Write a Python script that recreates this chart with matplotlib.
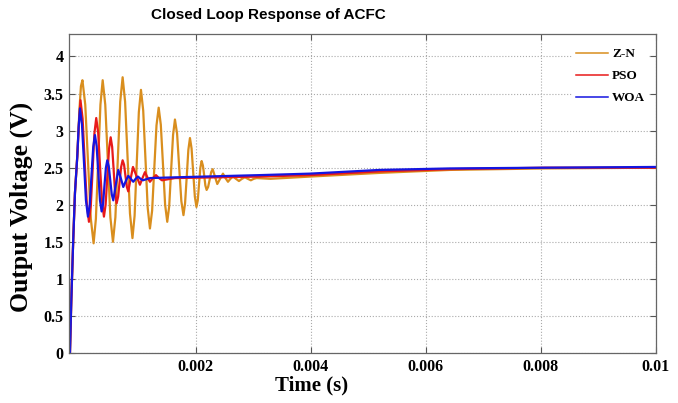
import matplotlib
matplotlib.use('Agg')
import matplotlib.pyplot as plt
import numpy as np

# Z-N respuesta
t_zn = [-0.000186, -0.000163, -0.000129, -0.000099, -0.000059, -0.000020, 0.000005, 0.000031,
        0.000080, 0.000128, 0.000177, 0.000225, 0.000265, 0.000304, 0.000344, 0.000383,
        0.000428, 0.000473, 0.000517, 0.000562, 0.000604, 0.000646, 0.000688, 0.000730,
        0.000773, 0.000816, 0.000858, 0.000901, 0.000938, 0.000975, 0.001012, 0.001049,
        0.001088, 0.001127, 0.001166, 0.001205, 0.001243, 0.001281, 0.001319, 0.001357,
        0.001394, 0.001432, 0.001469, 0.001506, 0.001540, 0.001573, 0.001607, 0.001640,
        0.001677, 0.001714, 0.001751, 0.001788, 0.001816, 0.001845, 0.001873, 0.001901,
        0.001929, 0.001958, 0.001986, 0.002014, 0.002037, 0.002059, 0.002082, 0.002104,
        0.002126, 0.002148, 0.002169, 0.002191, 0.002217, 0.002244, 0.002270, 0.002296,
        0.002336, 0.002376, 0.002425, 0.002475, 0.002518, 0.002562, 0.002605, 0.002649,
        0.002701, 0.002753, 0.002805, 0.002857, 0.002908, 0.002960, 0.003010, 0.003060,
        0.003300, 0.003988, 0.005205, 0.006423, 0.008075, 0.0100]
v_zn = [0, 0.70, 1.53, 2.16, 2.65, 3.30, 3.60, 3.68,
        3.35, 2.58, 1.81, 1.48, 1.81, 2.58, 3.35, 3.68,
        3.35, 2.59, 1.83, 1.50, 1.83, 2.61, 3.39, 3.72,
        3.39, 2.64, 1.88, 1.55, 1.85, 2.55, 3.25, 3.55,
        3.27, 2.62, 1.96, 1.68, 1.92, 2.50, 3.07, 3.31,
        3.08, 2.54, 2.00, 1.77, 1.98, 2.46, 2.94, 3.15,
        2.96, 2.50, 2.05, 1.86, 2.02, 2.38, 2.74, 2.90,
        2.76, 2.43, 2.11, 1.97, 2.06, 2.28, 2.50, 2.59,
        2.53, 2.40, 2.26, 2.20, 2.24, 2.34, 2.44, 2.48,
        2.38, 2.28, 2.35, 2.42, 2.36, 2.31, 2.35, 2.38,
        2.35, 2.32, 2.35, 2.37, 2.35, 2.33, 2.35, 2.36,
        2.35, 2.38, 2.43, 2.47, 2.49, 2.50]
# PSO
t_pso = [-0.000186, -0.000163, -0.000129, -0.000099, -0.000059, -0.000030, -0.000003,
         0.000034, 0.000070, 0.000107, 0.000144, 0.000176, 0.000208, 0.000239, 0.000271,
         0.000305, 0.000338, 0.000372, 0.000405, 0.000434, 0.000464, 0.000493, 0.000522,
         0.000548, 0.000574, 0.000600, 0.000626, 0.000652, 0.000678, 0.000704, 0.000730,
         0.000755, 0.000779, 0.000804, 0.000828, 0.000869, 0.000910, 0.000970, 0.001031,
         0.001075, 0.001118, 0.001161, 0.001205, 0.001258, 0.001310, 0.001362, 0.001414,
         0.001640, 0.003118, 0.003988, 0.005205, 0.006423, 0.008075, 0.0100]
v_pso = [0, 0.70, 1.53, 2.16, 2.65, 3.10, 3.41,
         3.16, 2.59, 2.02, 1.77, 1.98, 2.47, 2.96, 3.17,
         2.97, 2.50, 2.04, 1.84, 2.00, 2.38, 2.75, 2.91,
         2.78, 2.47, 2.15, 2.02, 2.11, 2.31, 2.51, 2.60,
         2.54, 2.39, 2.24, 2.18, 2.35, 2.51, 2.39, 2.27,
         2.36, 2.44, 2.37, 2.31, 2.36, 2.40, 2.36, 2.33,
         2.36, 2.38, 2.40, 2.45, 2.48, 2.50, 2.50]
# WOA
t_woa = [-0.000186, -0.000163, -0.000129, -0.000099, -0.000059, -0.000035, -0.000012,
         0.000023, 0.000058, 0.000092, 0.000127, 0.000158, 0.000188, 0.000219, 0.000249,
         0.000278, 0.000307, 0.000336, 0.000365, 0.000390, 0.000414, 0.000439, 0.000463,
         0.000489, 0.000515, 0.000541, 0.000567, 0.000611, 0.000654, 0.000698, 0.000741,
         0.000785, 0.000828, 0.000872, 0.000915, 0.000956, 0.000997, 0.001040, 0.001083,
         0.001205, 0.001640, 0.003118, 0.003988, 0.005205, 0.006423, 0.008075, 0.0100]
v_woa = [0, 0.70, 1.53, 2.16, 2.65, 3.05, 3.30,
         3.08, 2.57, 2.06, 1.84, 2.00, 2.39, 2.78, 2.94,
         2.79, 2.43, 2.06, 1.91, 2.01, 2.26, 2.50, 2.60,
         2.52, 2.33, 2.14, 2.06, 2.27, 2.47, 2.36, 2.24,
         2.32, 2.39, 2.35, 2.31, 2.35, 2.38, 2.35, 2.33,
         2.36, 2.37, 2.40, 2.42, 2.47, 2.49, 2.50, 2.51]

xticks = [0.002, 0.004, 0.006, 0.008, 0.01]
xlabels = ['0.002', '0.004', '0.006', '0.008', '0.01']
yticks = np.arange(0, 4.01, 0.5)
ylabels = ['0', '0.5', '1', '1.5', '2', '2.5', '3', '3.5', '4']

serif = ['Liberation Serif', 'DejaVu Serif']

fig = plt.figure(figsize=(6.78, 4.03), dpi=100)
ax = fig.add_axes([0.102, 0.124, 0.865, 0.791])

ax.plot(t_zn, v_zn, color='#D98E1E', lw=1.6, label='Z-N')
ax.plot(t_pso, v_pso, color='#E81A1A', lw=1.6, label='PSO')
ax.plot(t_woa, v_woa, color='#1515E0', lw=1.6, label='WOA')

ax.set_xlim(-0.0002, 0.01)
ax.set_ylim(0, 4.3)
ax.set_xticks(xticks)
ax.set_xticklabels(xlabels, family=serif, fontweight='bold', fontsize=11.5)
ax.set_yticks(yticks)
ax.set_yticklabels(ylabels, family=serif, fontweight='bold', fontsize=11.5)
ax.tick_params(direction='in', length=4, top=True, right=True, color='#555555', pad=4)
ax.grid(True, linestyle=':', color='#aaaaaa', lw=0.8)
for s in ax.spines.values():
    s.set_color('#666666')
    s.set_linewidth(0.9)

fig.text(311.5 / 678, 1 - 385 / 403, 'Time (s)', ha='center', va='center',
         family=serif, fontweight='bold', fontsize=15)
fig.text(21 / 678, 1 - 207 / 403, 'Output Voltage (V)', ha='center', va='center',
         rotation=90, family=serif, fontweight='bold', fontsize=18.5)
fig.text(268 / 678, 1 - 15 / 403, 'Closed Loop Response of ACFC', ha='center', va='center',
         family=['Liberation Sans', 'DejaVu Sans'], fontweight='bold', fontsize=11)

leg = ax.legend(loc='upper right', bbox_to_anchor=(1.0, 0.99), prop={'family': serif, 'weight': 'bold', 'size': 9.5},
                frameon=True, fancybox=False, edgecolor='none', facecolor='white', framealpha=1,
                handlelength=2.4, labelspacing=0.75, handletextpad=0.3, borderpad=0.3)
for h in leg.get_lines():
    h.set_linewidth(1.1)

fig.savefig('out.png', dpi=100)
